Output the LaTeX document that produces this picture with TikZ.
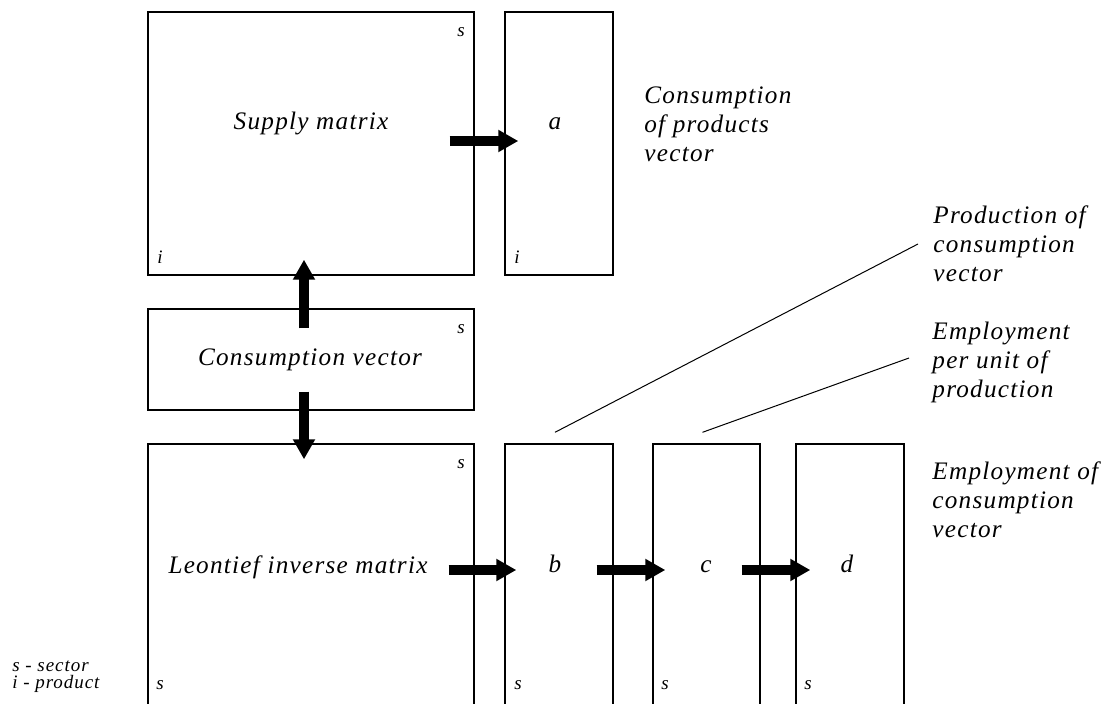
\documentclass[tikz,border=0pt]{standalone}
\usepackage{fontspec}
\setmainfont{Liberation Serif}[LetterSpace=5]
\usetikzlibrary{arrows.meta,fit}

\begin{document}
\begin{tikzpicture}[x=0.5pt, y=-0.5pt,
        box/.style={draw, line width=0.7pt, inner sep=0pt},
        fat/.style={line width=5pt, -{Triangle[width=10.5pt, length=10pt]}},
        big/.style={font=\fontsize{12.6}{14.5}\selectfont\itshape, inner sep=0pt},
        letter/.style={big, text height=9pt, text depth=3pt},
        small/.style={font=\fontsize{9.5}{8.5}\selectfont\itshape, inner sep=0pt},
        note/.style={big, align=left, anchor=west}]

        \useasboundingbox (0,0) rectangle (1106,704);
        \clip (0,0) rectangle (1106,704);

        % boxes
        \foreach \name/\xa/\ya/\xb/\yb in {%
            supply/148/12/474/275,
            a/505/12/613/275,
            cv/148/309/474/410,
            leon/148/444/474/720,
            b/505/444/613/720,
            c/653/444/760/720,
            d/796/444/904/720%
        }{
            \node[box, fit={(\xa,\ya) (\xb,\yb)}] (\name) {};
        }

        % texts in the boxes
        \node[letter] (supplyt) at (311,124) {Supply matrix};
        \node[letter] (at) at (555,124) {a};
        \node[letter] (cvt) at (310,360) {Consumption vector};
        \node[letter] (leont) at (298,567) {Leontief inverse matrix};
        \node[letter] (bt) at (555,566) {b};
        \node[letter] (ct) at (706,566) {c};
        \node[letter] (dt) at (847,566) {d};

        % corner indices
        \foreach \x/\y/\t [count=\k] in {%
            461/32/s, 160/257/i, 517/257/i, 461/329/s, 461/464/s,
            160/685/s, 518/685/s, 665/685/s, 808/685/s%
        }{
            \node[small] (corner\k) at (\x,\y) {\t};
        }

        % notes on the right
        \node[note] (cons) at (644,124) {Consumption\\of products\\vector};
        \node[note] (prod) at (933,244) {Production of\\consumption\\vector};
        \node[note] (empl) at (932,362) {Employment\\per unit of\\production};
        \node[note] (emplc) at (932,500) {Employment of\\consumption\\vector};
        \node[small, align=left, anchor=west] (legend) at (12,677) {s - sector\\i - product};

        % arrows
        \draw[fat] ([shift={(-25,-2.5)}]supply.east) -- ([shift={(14,-2.5)}]a.west);
        \draw[fat] ([shift={(-7,20)}]cv.north) -- ([shift={(-7,-16)}]supply.south);
        \draw[fat] ([shift={(-7,-19)}]cv.south) -- ([shift={(-7,16)}]leon.north);
        \draw[fat] ([shift={(-26,-12)}]leon.east) -- ([shift={(12,-12)}]b.west);
        \draw[fat] ([shift={(-17,-12)}]b.east) -- ([shift={(13,-12)}]c.west);
        \draw[fat] ([shift={(-19,-12)}]c.east) -- ([shift={(15,-12)}]d.west);

        % leader lines
        \draw[line width=0.5pt] ([shift={(-4,-11)}]b.north) -- ([shift={(-15,0)}]prod.west);
        \draw[line width=0.5pt] ([shift={(-4,-11)}]c.north) -- ([shift={(-23,-4)}]empl.west);

    \end{tikzpicture}
\end{document}
